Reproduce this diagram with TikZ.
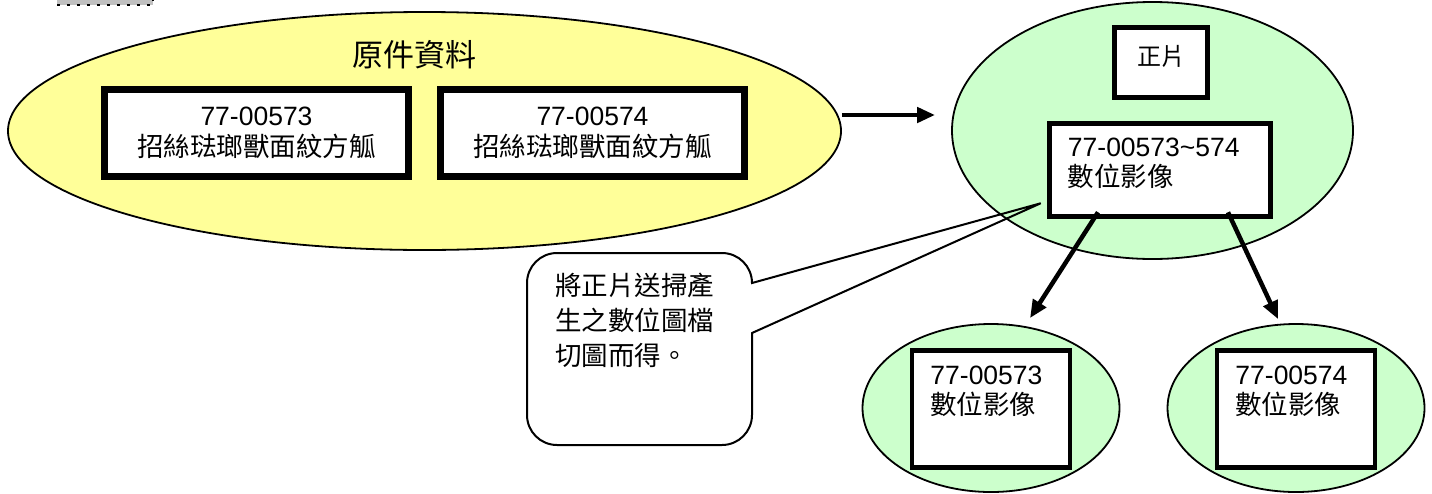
\documentclass[tikz,border=0pt]{standalone}
\usepackage{fontspec}
\setmainfont{Liberation Sans}
\newfontfamily\cjk{Noto Sans CJK TC}
\usetikzlibrary{shapes.geometric,arrows.meta,calc}
\definecolor{amarelo}{HTML}{FFFF99}
\definecolor{verde}{HTML}{CCFFCC}
\definecolor{cinza}{HTML}{C0C0C0}

\begin{document}
\begin{tikzpicture}[x=1pt,y=-1pt,
    bolha/.style={ellipse, draw, line width=1.8pt, inner sep=0pt},
    caixa/.style={draw, fill=white, inner sep=0pt},
    fluxo/.style={line width=4.5pt, -{Triangle[length=18pt,width=15pt]}},
    texto/.style={font=\fontsize{26.5}{30.5}\selectfont, align=left, inner sep=0pt}]
  \useasboundingbox (0,0) rectangle (1432,493);

  % Resto de figura cortado no topo
  \fill[cinza] (57,0) rectangle (153,5);
  \draw[line width=2.5pt, dash pattern=on 3pt off 7pt] (57,5) -- (153,5) -- (153,0);

  % Elipse amarela: dados originais
  \node[bolha, fill=amarelo, minimum width=833pt, minimum height=238pt] (orig) at (424.5,131) {};
  \node[font=\cjk\fontsize{31}{31}\selectfont, inner sep=0pt] (titulo) at (414.5,55) {原件資料};

  % Objetos: número/{coordenada x}
  \foreach \num/\xc [count=\i] in {00573/256.5, 00574/592.5} {
    \node[caixa, line width=7pt, minimum width=304pt, minimum height=87pt, align=center,
          font=\fontsize{26.5}{31}\selectfont] (obj\i) at (\xc,133) {77-\num\\{\cjk 招絲琺瑯獸面紋方觚}};
  }

  % Elipse verde: positivo e imagem digital
  \node[bolha, fill=verde, minimum width=401pt, minimum height=257pt] (film) at (1152.5,130.5) {};
  \node[caixa, line width=4.5pt, minimum width=93pt, minimum height=70pt, text depth=14pt,
        font=\cjk\fontsize{24}{24}\selectfont] (pos) at (1161,62.5) {正片};
  \node[caixa, line width=4.5pt, minimum width=221pt, minimum height=93pt] (img) at (1160,170) {};
  \node[texto, anchor=north west] (imgtxt) at ([shift={(20.5,16.5)}]img.north west) {77-00573\textasciitilde574\\{\cjk 數位影像}};

  % Imagens recortadas
  \foreach \num/\xc [count=\i] in {00573/991, 00574/1296} {
    \node[bolha, fill=verde, minimum width=257pt, minimum height=168pt] (sub\i) at (\xc,408) {};
    \node[caixa, line width=4.5pt, minimum width=158pt, minimum height=117pt] (cut\i) at (\xc,409) {};
    \node[texto, anchor=north west] (cuttxt\i) at ([shift={(20.5,17.5)}]cut\i.north west) {77-\num\\{\cjk 數位影像}};
  }

  % Setas
  \coordinate (entrada) at ($(orig.east |- 0,115)$);
  \coordinate (chegada) at ($(film.west |- 0,115)+(-16,0)$);
  \draw[fluxo] (entrada) -- (chegada);
  \draw[fluxo] ([shift={(-62,-6.5)}]img.south) -- ([shift={(39,-5)}]sub1.north);
  \draw[fluxo] ([shift={(68,-6.5)}]img.south) -- ([shift={(-18,-4)}]sub2.north);

  % Balão de comentário
  \coordinate (ponta) at ([shift={(-6.5,-15.5)}]img.south west);
  \draw[line width=2pt] (752,333) -- (752,415) arc[start angle=0, end angle=90, radius=30]
    -- (557,445) arc[start angle=90, end angle=180, radius=30]
    -- (527,283) arc[start angle=180, end angle=270, radius=30]
    -- (722,253) arc[start angle=270, end angle=360, radius=30]
    -- (ponta) -- cycle;
  \node[texto, anchor=north west, font=\cjk\fontsize{26.5}{35}\selectfont] (nota) at (555,273) {將正片送掃產\\生之數位圖檔\\切圖而得。};
\end{tikzpicture}
\end{document}
